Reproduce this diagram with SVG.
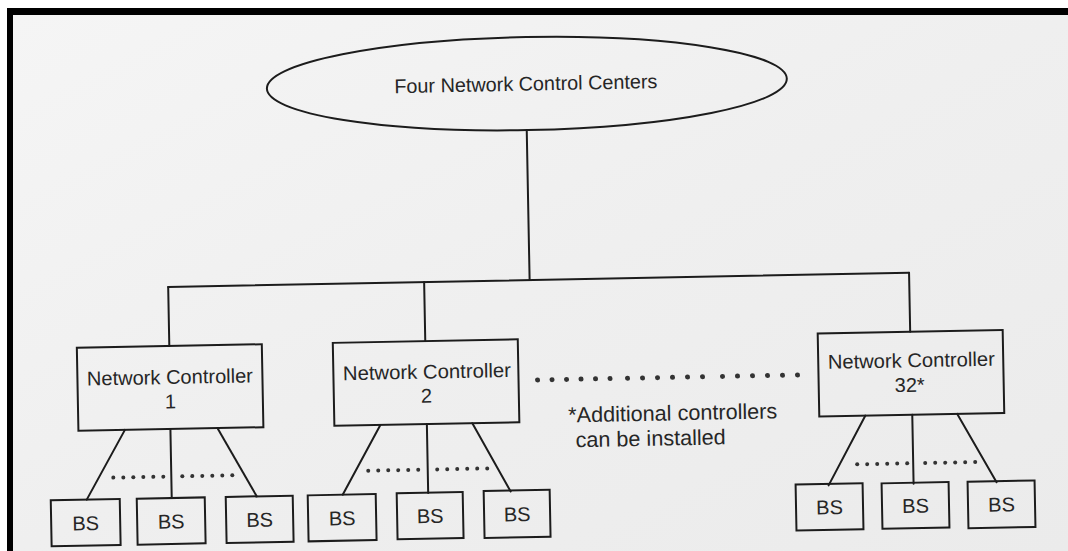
<svg xmlns="http://www.w3.org/2000/svg" width="1068" height="551" viewBox="0 0 1068 551">
  <defs>
    <linearGradient id="paper" x1="0" y1="0" x2="1" y2="1">
      <stop offset="0" stop-color="#f5f5f5"/>
      <stop offset="0.5" stop-color="#efefef"/>
      <stop offset="1" stop-color="#ebebeb"/>
    </linearGradient>
    <style>
      .shape { fill: none; stroke: #1c1c1c; stroke-width: 2; }
      .wire { fill: none; stroke: #1c1c1c; stroke-width: 2; stroke-linecap: round; }
      .lbl { font-family: "Liberation Sans", Arial, sans-serif; font-size: 20px; fill: #262626; text-anchor: middle; }
      .note { font-family: "Liberation Sans", Arial, sans-serif; font-size: 21.5px; fill: #262626; }
      .dot { fill: #333; }
    </style>
  </defs>

  <!-- page and frame -->
  <rect x="0" y="0" width="1068" height="551" fill="#ffffff"/>
  <rect x="7" y="8" width="1061" height="543" fill="#000"/>
  <rect x="13" y="15" width="1055" height="536" fill="url(#paper)"/>

  <g id="diagram" transform="rotate(-1.1 534 300)">
    <!-- connectors -->
    <g id="connectors">
      <line class="wire" x1="530" y1="130" x2="530" y2="280"/>
      <line class="wire" x1="168.5" y1="280" x2="909.5" y2="280"/>
      <line class="wire" x1="168.5" y1="280" x2="168.5" y2="339"/>
      <line class="wire" x1="424.5" y1="280" x2="424.5" y2="339"/>
      <line class="wire" x1="909.5" y1="280" x2="909.5" y2="339"/>

      <line class="wire" x1="122.5" y1="422" x2="83" y2="491"/>
      <line class="wire" x1="168" y1="422" x2="168" y2="491"/>
      <line class="wire" x1="215" y1="422" x2="253" y2="491"/>

      <line class="wire" x1="378" y1="422" x2="339" y2="491"/>
      <line class="wire" x1="424.5" y1="422" x2="424.5" y2="491"/>
      <line class="wire" x1="470" y1="422" x2="507" y2="491"/>

      <line class="wire" x1="863" y1="422" x2="825" y2="491"/>
      <line class="wire" x1="910" y1="422" x2="910" y2="491"/>
      <line class="wire" x1="955" y1="422" x2="993" y2="491"/>

      <!-- dotted runs between base stations -->
      <g class="dot">
        <circle cx="110" cy="469.5" r="2"/><circle cx="120" cy="469.5" r="2"/><circle cx="130" cy="469.5" r="2"/><circle cx="140" cy="469.5" r="2"/><circle cx="150" cy="469.5" r="2"/><circle cx="160" cy="469.5" r="2"/>
        <circle cx="179" cy="469.5" r="2"/><circle cx="189" cy="469.5" r="2"/><circle cx="199" cy="469.5" r="2"/><circle cx="209" cy="469.5" r="2"/><circle cx="219" cy="469.5" r="2"/><circle cx="229" cy="469.5" r="2"/>

        <circle cx="365" cy="467.5" r="2"/><circle cx="375" cy="467.5" r="2"/><circle cx="385" cy="467.5" r="2"/><circle cx="395" cy="467.5" r="2"/><circle cx="405" cy="467.5" r="2"/><circle cx="415" cy="467.5" r="2"/>
        <circle cx="434" cy="467.5" r="2"/><circle cx="444" cy="467.5" r="2"/><circle cx="454" cy="467.5" r="2"/><circle cx="464" cy="467.5" r="2"/><circle cx="474" cy="467.5" r="2"/><circle cx="484" cy="467.5" r="2"/>

        <circle cx="854" cy="470.5" r="2"/><circle cx="864" cy="470.5" r="2"/><circle cx="874" cy="470.5" r="2"/><circle cx="884" cy="470.5" r="2"/><circle cx="894" cy="470.5" r="2"/><circle cx="904" cy="470.5" r="2"/>
        <circle cx="922" cy="470.5" r="2"/><circle cx="932" cy="470.5" r="2"/><circle cx="942" cy="470.5" r="2"/><circle cx="952" cy="470.5" r="2"/><circle cx="962" cy="470.5" r="2"/><circle cx="972" cy="470.5" r="2"/>

        <!-- gap between controller 2 and controller 32 -->
        <circle cx="536" cy="380" r="2.5"/><circle cx="550.5" cy="380" r="2.5"/><circle cx="565" cy="380" r="2.5"/><circle cx="579.5" cy="380" r="2.5"/><circle cx="594" cy="380" r="2.5"/><circle cx="608.5" cy="380" r="2.5"/>
        <circle cx="626" cy="380" r="2.5"/><circle cx="641" cy="380" r="2.5"/><circle cx="656" cy="380" r="2.5"/><circle cx="671" cy="380" r="2.5"/><circle cx="686" cy="380" r="2.5"/><circle cx="701" cy="380" r="2.5"/>
        <circle cx="721" cy="380" r="2.5"/><circle cx="736" cy="380" r="2.5"/><circle cx="751" cy="380" r="2.5"/><circle cx="766" cy="380" r="2.5"/><circle cx="781" cy="380" r="2.5"/><circle cx="796" cy="380" r="2.5"/>
      </g>
    </g>

    <!-- top-level node -->
    <g id="ncc">
      <ellipse class="shape" cx="531" cy="83.5" rx="260" ry="46.5"/>
      <text class="lbl" x="530" y="90.5" textLength="263" lengthAdjust="spacingAndGlyphs">Four Network Control Centers</text>
    </g>

    <!-- controllers -->
    <g id="nc1">
      <rect class="shape" x="76" y="339" width="185" height="83"/>
      <text class="lbl" x="168.5" y="377" textLength="166" lengthAdjust="spacingAndGlyphs">Network Controller</text>
      <text class="lbl" x="168.5" y="401.5">1</text>
    </g>
    <g id="nc2">
      <rect class="shape" x="332" y="339" width="185" height="83"/>
      <text class="lbl" x="425.5" y="376.5" textLength="168" lengthAdjust="spacingAndGlyphs">Network Controller</text>
      <text class="lbl" x="424.5" y="400.5">2</text>
    </g>
    <g id="nc32">
      <rect class="shape" x="817" y="339" width="185" height="83"/>
      <text class="lbl" x="910" y="374.5" textLength="167" lengthAdjust="spacingAndGlyphs">Network Controller</text>
      <text class="lbl" x="908" y="399">32*</text>
    </g>

    <!-- note -->
    <g id="note">
      <text class="note" x="566" y="423" textLength="209" lengthAdjust="spacingAndGlyphs">*Additional controllers</text>
      <text class="note" x="573" y="448" textLength="150" lengthAdjust="spacingAndGlyphs">can be installed</text>
    </g>

    <!-- base stations -->
    <g id="bs1"><rect class="shape" x="47" y="491" width="69" height="46"/><text class="lbl" x="81.5" y="521.5">BS</text></g>
    <g id="bs2"><rect class="shape" x="133" y="491" width="68" height="46"/><text class="lbl" x="167" y="521.5">BS</text></g>
    <g id="bs3"><rect class="shape" x="222" y="491" width="67" height="46"/><text class="lbl" x="255.5" y="521.5">BS</text></g>
    <g id="bs4"><rect class="shape" x="304" y="491" width="68" height="46"/><text class="lbl" x="338" y="521.5">BS</text></g>
    <g id="bs5"><rect class="shape" x="393" y="490.5" width="66" height="46"/><text class="lbl" x="426" y="521">BS</text></g>
    <g id="bs6"><rect class="shape" x="480" y="490" width="66" height="47"/><text class="lbl" x="513" y="521">BS</text></g>
    <g id="bs7"><rect class="shape" x="792" y="489.5" width="67" height="46"/><text class="lbl" x="825.5" y="520">BS</text></g>
    <g id="bs8"><rect class="shape" x="878" y="490" width="67" height="45.5"/><text class="lbl" x="911.5" y="520">BS</text></g>
    <g id="bs9"><rect class="shape" x="964" y="490" width="67" height="46.5"/><text class="lbl" x="997.5" y="520.5">BS</text></g>
  </g>
</svg>
